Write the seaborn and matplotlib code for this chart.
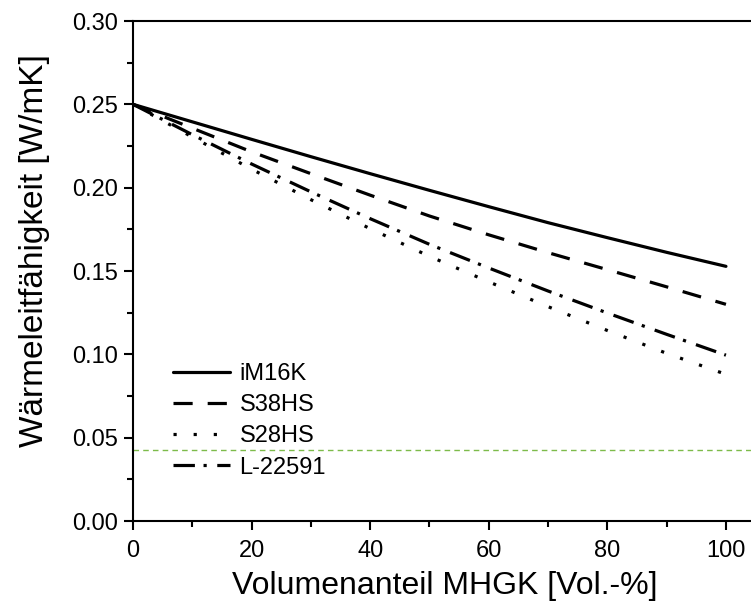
import numpy as np
import pandas as pd
import matplotlib
matplotlib.use("Agg")
import matplotlib.pyplot as plt
import seaborn as sns
from matplotlib.lines import Line2D

# ---- data ----
x_vol = [0, 10, 20, 30, 40, 50, 60, 70, 80, 90, 100]
iM16K = [0.250, 0.2395, 0.2290, 0.2186, 0.2084, 0.1984, 0.1886, 0.1790, 0.1700, 0.1612, 0.1528]
S38HS = [0.250, 0.2357, 0.2215, 0.2084, 0.1955, 0.1830, 0.1717, 0.1610, 0.1508, 0.1405, 0.1300]
S28HS = [0.250, 0.2304, 0.2111, 0.1928, 0.1754, 0.1588, 0.1435, 0.1286, 0.1143, 0.1006, 0.0880]
L22591 = [0.250, 0.2318, 0.2142, 0.1975, 0.1814, 0.1660, 0.1518, 0.1380, 0.1248, 0.1120, 0.0995]
series_names = ["iM16K", "S38HS", "S28HS", "L-22591"]
ref_level = 0.0428
x_ticks = [0, 20, 40, 60, 80, 100]
y_ticks = [0.00, 0.05, 0.10, 0.15, 0.20, 0.25, 0.30]
x_label = "Volumenanteil MHGK [Vol.-%]"
y_label = "Wärmeleitfähigkeit [W/mK]"

df = pd.DataFrame({
    "x": x_vol * 4,
    "y": iM16K + S38HS + S28HS + L22591,
    "material": sum([[n] * len(x_vol) for n in series_names], []),
})

sns.set_style("ticks")
plt.rcParams["font.family"] = ["Liberation Sans", "DejaVu Sans"]
plt.rcParams["text.color"] = "black"
plt.rcParams["axes.labelcolor"] = "black"
plt.rcParams["xtick.color"] = "black"
plt.rcParams["ytick.color"] = "black"

dash_map = {
    "iM16K": "",
    "S38HS": (6, 4.7),
    "S28HS": (1, 5.3),
    "L-22591": (6.7, 2.7, 1, 3.3),
}

fig = plt.figure(figsize=(7.51, 6.08), dpi=100)
ax = fig.add_axes([133 / 751, 87 / 608, 622.6 / 751, 500 / 608])

sns.lineplot(data=df, x="x", y="y", style="material", dashes=dash_map,
             color="black", linewidth=2.3, ax=ax, legend=False)

ax.axhline(ref_level, color="#7dbb4a", linewidth=1.0, dashes=(4, 3))

ax.set_xlim(0, 105)
ax.set_ylim(0, 0.30)
ax.set_xticks(x_ticks)
ax.set_xticks(np.arange(10, 105, 20), minor=True)
ax.set_yticks(y_ticks)
ax.set_yticks(np.arange(0.025, 0.30, 0.05), minor=True)
ax.set_yticklabels([f"{v:.2f}" for v in y_ticks])
ax.set_xticklabels([str(v) for v in x_ticks])

for s in ["left", "bottom", "top"]:
    ax.spines[s].set_linewidth(1.5)
    ax.spines[s].set_color("black")
ax.spines["right"].set_visible(False)

ax.tick_params(axis="both", which="major", direction="out", length=6.5, width=1.5,
               labelsize=17, colors="black", labelcolor="black")
ax.tick_params(axis="both", which="minor", direction="out", length=4, width=1.5,
               colors="black")
ax.tick_params(axis="y", pad=4)
ax.tick_params(axis="x", pad=7)

ax.set_xlabel(x_label, fontsize=23, labelpad=7, color="black")
ax.set_ylabel(y_label, fontsize=24, color="black")
ax.yaxis.set_label_coords(-0.133, 0.54)

handles = [Line2D([0], [0], color="black", linewidth=2.3,
                  linestyle=(0, dash_map[n]) if dash_map[n] else "-")
           for n in series_names]
leg = ax.legend(handles, series_names, loc="upper left", bbox_to_anchor=(0.064, 0.316),
                frameon=False, fontsize=17, handlelength=2.4, handletextpad=0.42,
                labelspacing=0.39, borderpad=0, borderaxespad=0)
for t in leg.get_texts():
    t.set_color("black")

fig.savefig("out.png", dpi=100)
